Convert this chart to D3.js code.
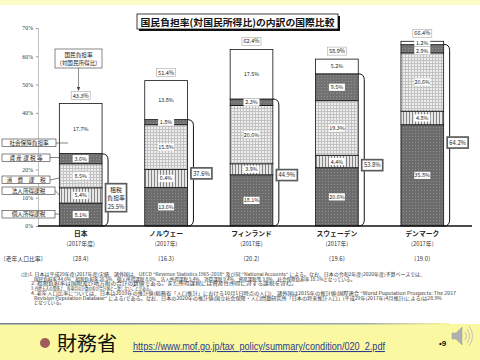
<!DOCTYPE html>
<html><head><meta charset="utf-8">
<script src="https://cdn.jsdelivr.net/npm/d3@7/dist/d3.min.js"></script>
<style>html,body{margin:0;padding:0;background:#fff}svg{display:block}</style>
</head><body><svg id="c" width="480" height="360"></svg>
<script>
const countries = ["日本","ノルウェー","フィンランド","スウェーデン","デンマーク"];
const years = ["(2017年度)","(2017年)","(2017年)","(2017年)","(2017年)"];
const elderly = ["28.4","16.3","20.2","19.6","19.0"];
const personal = [8.1,13.6,18.1,20.6,35.8];
const corporate = [5.4,6.4,3.9,4.4,4.8];
const consumption = [8.5,15.8,20.6,19.3,20.6];
const property = [3.6,1.8,2.3,9.5,2.9];
const social = [17.7,13.8,17.5,5.2,1.2];
const totals = ["43.3%","51.4%","62.4%","58.9%","66.4%"];
const taxTotals = ["25.5%","37.6%","44.9%","53.8%","64.2%"];
const taxValues = [25.5,37.6,44.9,53.8,64.2];
const yTicks = [0,10,20,40,50,60,70];
const seriesNames = ["個人所得課税","法人所得課税","消費課税","資産課税等","社会保障負担率"];
const seriesLabels = ["個人所得課税","法人所得課税","消　費　課　税","資 産 課 税 等","社会保障負担率"];
const notes = [
 "(注)1. 日本は平成29年度(2017年度)実績、諸外国は、OECD \"Revenue Statistics 1965-2018\" 及び同 \"National Accounts\" による。なお、日本の令和2年度(2020年度)予算ベースでは、",
 "国民負担率 44.6%、租税負担率 26.5%、個人所得課税 8.0%、法人所得課税 5.4%、消費課税 9.4%、資産課税等 3.8%、社会保障負担率 18.1%となっている。",
 "2. 租税負担率は国税及び地方税の合計の数値である。また所得課税には資産性所得に対する課税を含む。",
 "3. 四捨五入の関係上、各項目の計数の和が合計値と一致しないことがある。",
 "4. 老年人口比率については、日本は2019年の推計値(総務省「人口推計」における10月1日時点の人口)、諸外国は2015年の推計値(国際連合 \"World Population Prospects: The 2017",
 "Revision Population Database\" による)である。なお、日本の2020年の推計値(国立社会保障・人口問題研究所「日本の将来推計人口」(平成29年(2017年)4月推計)による)は28.9%",
 "となっている。"
];

const F = "'Noto Sans CJK JP','Noto Sans',sans-serif";
const svg = d3.select("#c").style("font-family", F);
const defs = svg.append("defs");
function pat(id, bg, draw){
  const p = defs.append("pattern").attr("id",id).attr("width",3).attr("height",3).attr("patternUnits","userSpaceOnUse");
  p.append("rect").attr("width",3).attr("height",3).attr("fill",bg);
  draw(p);
}
pat("pDark","#6c6c6c",p=>p.append("rect").attr("x",1).attr("y",1).attr("width",1).attr("height",1).attr("fill","#8e8e8e"));
pat("pProp","#727272",p=>p.append("rect").attr("x",0).attr("y",0).attr("width",1).attr("height",1).attr("fill","#909090"));
pat("pV","#e6e6e6",p=>p.append("rect").attr("x",1).attr("width",1).attr("height",3).attr("fill","#858585"));
pat("pGrid","#eeeeee",p=>p.append("path").attr("d","M0 0.5H3M0.5 0V3").attr("stroke","#c2c2c2").attr("stroke-width",1));
const fills = ["url(#pDark)","url(#pV)","url(#pGrid)","url(#pProp)","#ffffff"];
const gradTop = defs.append("linearGradient").attr("id","gl");
gradTop.append("stop").attr("offset","0").attr("stop-color","#6f8090");
gradTop.append("stop").attr("offset","0.8").attr("stop-color","#9aa8b0");
gradTop.append("stop").attr("offset","1").attr("stop-color","#fbf7a0");

// background bands
svg.append("rect").attr("x",0).attr("y",0).attr("width",480).attr("height",5).attr("fill","#fdfbc8");
svg.append("rect").attr("x",0).attr("y",324).attr("width",480).attr("height",36).attr("fill","#fbf8a2");
svg.append("rect").attr("x",0).attr("y",323).attr("width",450).attr("height",1.5).attr("fill","url(#gl)");

const y = d3.scaleLinear().domain([0,70]).range([226,28]);
const x = d3.scaleBand().domain(countries).range([38,465]).paddingInner(0.5).paddingOuter(0.25);

// y axis
const ya = svg.append("g").attr("transform","translate(38,0)")
  .call(d3.axisLeft(y).tickValues(yTicks).tickFormat(d=>d+"%").tickSize(2).tickPadding(3));
ya.select(".domain").attr("stroke","#999").attr("stroke-width",0.6);
ya.selectAll(".tick line").attr("stroke","#999");
ya.selectAll("text").attr("font-size",5.8).attr("font-family","'Liberation Serif',serif").attr("fill","#333");

// stacked bars
const data = countries.map((c,i)=>({c, v:[personal[i],corporate[i],consumption[i],property[i],social[i]]}));
const stack = d3.stack().keys([0,1,2,3,4]).value((d,k)=>d.v[k]);
const series = stack(data);
const bw = x.bandwidth();
series.forEach((s,k)=>{
  svg.append("g").selectAll("rect").data(s).join("rect")
    .attr("x",d=>x(d.data.c)).attr("width",bw)
    .attr("y",d=>y(d[1])).attr("height",d=>y(d[0])-y(d[1]))
    .attr("fill",fills[k]).attr("stroke","#111").attr("stroke-width",0.8);
});
// segment labels with simple collision resolution (top-down)
const lblG = svg.append("g");
countries.forEach((c,i)=>{
  const cx = x(c)+bw/2;
  let prevY = -Infinity;
  for(let k=4;k>=0;k--){
    const d = series[k][i];
    let cy = (y(d[0])+y(d[1]))/2;
    if(cy < prevY + 7.6) cy = prevY + 7.6;
    prevY = cy;
    const val = d.data.v[k].toFixed(1)+"%";
    lblG.append("rect").attr("x",cx-8).attr("y",cy-3.6).attr("width",16).attr("height",7.2).attr("fill","#fff");
    lblG.append("text").attr("x",cx).attr("y",cy+2).attr("text-anchor","middle").attr("font-size",5.4).attr("fill","#222").text(val);
  }
});

// total labels
countries.forEach((c,i)=>{
  const top = series[4][i][1];
  const cx = x(c)+bw/2, by = y(top)-4;
  svg.append("rect").attr("x",cx-9.5).attr("y",by-8).attr("width",19).attr("height",8).attr("fill","#fff").attr("stroke","#aaa").attr("stroke-width",0.6);
  svg.append("text").attr("x",cx).attr("y",by-2).attr("text-anchor","middle").attr("font-size",5.6).attr("fill","#222").text(totals[i]);
});

// x axis line
svg.append("line").attr("x1",38).attr("x2",472).attr("y1",y(0)).attr("y2",y(0)).attr("stroke","#111").attr("stroke-width",1.6);

// brackets and tax labels
const taxLabelAt = [10, 18.6, 18, 21.5, 29.5];
countries.forEach((c,i)=>{
  const x1 = x(c)+bw, yt = y(taxValues[i]), yb = y(0), r=6;
  svg.append("path").attr("d",`M${x1},${yt} Q${x1+r},${yt} ${x1+r},${yt+r} L${x1+r},${yb-r} Q${x1+r},${yb} ${x1},${yb}`)
    .attr("fill","none").attr("stroke","#111").attr("stroke-width",1);
  const cy = y(taxLabelAt[i]);
  if(i===0){
    svg.append("rect").attr("x",x1+3.5).attr("y",cy-14).attr("width",21).attr("height",28).attr("fill","#fff").attr("stroke","#777").attr("stroke-width",1.8);
    svg.append("rect").attr("x",x1+3.5).attr("y",cy-14).attr("width",21).attr("height",28).attr("fill","none").attr("stroke","#333").attr("stroke-width",0.4);
    ["租税","負担率",taxTotals[i]].forEach((t,j)=>svg.append("text").attr("x",x1+14).attr("y",cy-6+j*8.5).attr("text-anchor","middle").attr("font-size",5.8).attr("fill","#222").text(t));
  } else {
    svg.append("rect").attr("x",x1+3.5).attr("y",cy-5.5).attr("width",21).attr("height",11).attr("fill","#fff").attr("stroke","#777").attr("stroke-width",1.8);
    svg.append("rect").attr("x",x1+3.5).attr("y",cy-5.5).attr("width",21).attr("height",11).attr("fill","none").attr("stroke","#333").attr("stroke-width",0.4);
    svg.append("text").attr("x",x1+14).attr("y",cy+2.2).attr("text-anchor","middle").attr("font-size",5.8).attr("fill","#222").text(taxTotals[i]);
  }
});

// Japan series labels (left)
const j0 = x(countries[0]);
const leftBoxes = [
  {k:4, y:139, w:54, ly:143, tx:68, ty:143},
  {k:3, y:154, w:48, ly:157.5, tx:j0, ty:157.5},
  {k:2, y:176, w:48, ly:180, tx:j0, ty:178},
  {k:1, y:187, w:53, ly:190.5, tx:j0, ty:195},
  {k:0, y:210.5, w:53, ly:214, tx:j0, ty:214}
];
leftBoxes.forEach(b=>{
  svg.append("line").attr("x1",2+b.w).attr("y1",b.ly).attr("x2",b.tx).attr("y2",b.ty).attr("stroke","#333").attr("stroke-width",0.6);
  svg.append("rect").attr("x",2).attr("y",b.y).attr("width",b.w).attr("height",7.5).attr("fill","#fff").attr("stroke","#333").attr("stroke-width",0.6);
  svg.append("text").attr("x",2+b.w/2).attr("y",b.y+5.8).attr("text-anchor","middle").attr("font-size",5.6).attr("fill","#222").text(seriesLabels[b.k]);
});

// 国民負担率 callout
svg.append("rect").attr("x",55).attr("y",49).attr("width",47).attr("height",19).attr("fill","#fff").attr("stroke","#555").attr("stroke-width",0.7);
svg.append("text").attr("x",78.5).attr("y",56.5).attr("text-anchor","middle").attr("font-size",5.6).attr("fill","#222").text("国民負担率");
svg.append("text").attr("x",78.5).attr("y",64.5).attr("text-anchor","middle").attr("font-size",5.6).attr("fill","#222").text("(対国民所得比)");
svg.append("line").attr("x1",78.5).attr("y1",68).attr("x2",78.5).attr("y2",88).attr("stroke","#444").attr("stroke-width",0.6);
svg.append("path").attr("d","M76.8,87 L80.2,87 L78.5,91 Z").attr("fill","#444");

// country labels
countries.forEach((c,i)=>{
  const cx = x(c)+bw/2;
  svg.append("text").attr("x",cx).attr("y",236).attr("text-anchor","middle").attr("font-size",6.8).attr("font-weight",700).attr("fill","#222").text(c);
  svg.append("text").attr("x",cx).attr("y",245.5).attr("text-anchor","middle").attr("font-size",5.8).attr("fill","#333").text(years[i]);
  svg.append("text").attr("x",cx).attr("y",260.5).attr("text-anchor","middle").attr("font-size",5.8).attr("fill","#333").text("〔"+elderly[i]+"〕");
});
svg.append("text").attr("x",0).attr("y",260.5).attr("font-size",5.8).attr("fill","#333").text("〔老年人口比率〕");

// notes
const noteX = [21,34,31,31,31,34,34];
const noteW = [404,321,266,122,425,408,0];
notes.forEach((t,i)=>{
  const tx = svg.append("text").attr("x",noteX[i]).attr("y",276+i*4.7).attr("font-size",4.3).attr("fill","#333").text(t);
  if(noteW[i]) tx.attr("textLength",noteW[i]).attr("lengthAdjust","spacingAndGlyphs");
});

// title
svg.append("rect").attr("x",139).attr("y",16).attr("width",201).attr("height",15).attr("fill","#111");
svg.append("rect").attr("x",137).attr("y",14).attr("width",201).attr("height",15).attr("fill","#fff").attr("stroke","#111").attr("stroke-width",0.8);
svg.append("text").attr("x",237.5).attr("y",25.5).attr("text-anchor","middle").attr("font-size",9.6).attr("font-weight",700).attr("fill","#111")
  .attr("textLength",194).attr("lengthAdjust","spacingAndGlyphs").text("国民負担率(対国民所得比)の内訳の国際比較");

// footer
svg.append("circle").attr("cx",45).attr("cy",343).attr("r",5).attr("fill","#a05a5a");
svg.append("text").attr("x",57).attr("y",351).attr("font-size",20).attr("fill","#111").text("財務省");
svg.append("text").attr("x",133).attr("y",350).attr("font-size",10.6).attr("font-family","'Liberation Sans',Arial,sans-serif").attr("fill","#2a3d8f")
  .attr("text-decoration","underline").attr("textLength",252).attr("lengthAdjust","spacingAndGlyphs").text("https://www.mof.go.jp/tax_policy/summary/condition/020_2.pdf");
svg.append("text").attr("x",439).attr("y",346).attr("font-size",8).attr("font-weight",700).attr("font-family","'Liberation Sans',Arial,sans-serif").attr("fill","#111").text("•9");
// speaker icon
const sp = svg.append("g").attr("fill","#b0b0b0").attr("stroke","#999").attr("stroke-width",0.5);
sp.append("path").attr("d","M452,333 L456,333 L462,327 L462,345 L456,339 L452,339 Z");
const arcs = svg.append("g").attr("fill","none").attr("stroke","#c0c0c0").attr("stroke-width",1);
arcs.append("path").attr("d","M465,332 Q468,336 465,340");
arcs.append("path").attr("d","M467,329 Q472,336 467,343");
arcs.append("path").attr("d","M469,326 Q476,336 469,346");
</script></body></html>
